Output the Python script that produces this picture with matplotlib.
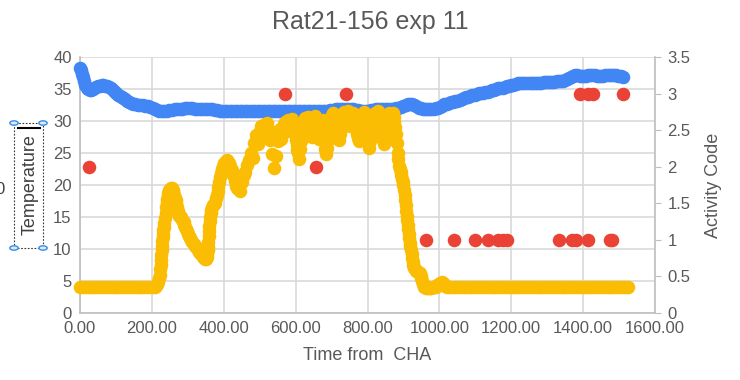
import numpy as np
import matplotlib
matplotlib.use("Agg")
import matplotlib.pyplot as plt
from matplotlib.patches import Rectangle, Circle
from matplotlib.lines import Line2D

plt.rcParams['font.family'] = ['Liberation Sans', 'DejaVu Sans']

title = "Rat21-156 exp 11"

# temperature (blue), left axis: (time, value)
bluePts = [
    (0, 38.3), (3, 38.0), (6, 37.4), (9, 36.8), (12, 36.2), (15, 35.6), (19, 35.2), (23, 35.0),
    (27, 34.9), (31, 34.9), (35, 35.0), (40, 35.1), (45, 35.3), (50, 35.4), (55, 35.5), (60, 35.6),
    (65, 35.6), (70, 35.5), (76, 35.4), (81, 35.3), (86, 35.2), (91, 34.9), (96, 34.6), (101, 34.3),
    (106, 34.1), (111, 33.9), (116, 33.8), (121, 33.6), (126, 33.5), (131, 33.2), (136, 33.0),
    (141, 32.8), (147, 32.7), (154, 32.6), (161, 32.5), (168, 32.5), (175, 32.5), (182, 32.4),
    (189, 32.4), (196, 32.2), (202, 32.0), (208, 31.8), (214, 31.7), (221, 31.6), (228, 31.6),
    (235, 31.6), (242, 31.6), (249, 31.7), (256, 31.7), (263, 31.8), (270, 31.8), (277, 31.9),
    (284, 31.9), (291, 32.0), (298, 32.0), (305, 32.0), (312, 32.0), (319, 31.9), (326, 31.9),
    (333, 31.9), (340, 31.9), (347, 31.8), (354, 31.8), (361, 31.8), (368, 31.8), (375, 31.7),
    (382, 31.7), (389, 31.6), (396, 31.6), (403, 31.6), (410, 31.6), (417, 31.6), (424, 31.6),
    (431, 31.5), (438, 31.5), (445, 31.6), (452, 31.6), (459, 31.5), (466, 31.5), (473, 31.5),
    (480, 31.5), (487, 31.6), (494, 31.6), (501, 31.6), (508, 31.6), (515, 31.5), (522, 31.5),
    (529, 31.5), (536, 31.5), (543, 31.6), (550, 31.6), (557, 31.6), (564, 31.6), (571, 31.5),
    (578, 31.5), (585, 31.6), (592, 31.6), (599, 31.5), (606, 31.5), (613, 31.6), (620, 31.6),
    (627, 31.5), (634, 31.5), (641, 31.6), (648, 31.6), (655, 31.5), (662, 31.5), (669, 31.5),
    (676, 31.5), (683, 31.6), (690, 31.6), (697, 31.7), (704, 31.7), (711, 31.8), (718, 31.8),
    (725, 31.9), (732, 31.9), (739, 31.8), (746, 31.8), (753, 31.8), (760, 31.8), (767, 31.7),
    (774, 31.7), (781, 31.6), (788, 31.6), (795, 31.6), (802, 31.6), (809, 31.7), (816, 31.7),
    (823, 31.8), (830, 31.8), (837, 31.8), (844, 31.8), (851, 31.8), (858, 31.8), (865, 31.9),
    (872, 31.9), (879, 32.0), (886, 32.1), (893, 32.2), (900, 32.3), (906, 32.5), (912, 32.6),
    (918, 32.7), (924, 32.7), (930, 32.5), (936, 32.3), (942, 32.1), (948, 32.0), (954, 31.9),
    (960, 31.9), (966, 31.8), (972, 31.8), (978, 31.9), (984, 31.9), (990, 32.0), (996, 32.1),
    (1002, 32.2), (1008, 32.4), (1014, 32.6), (1020, 32.7), (1026, 32.8), (1032, 32.9),
    (1038, 33.0), (1044, 33.1), (1050, 33.2), (1056, 33.3), (1062, 33.5), (1068, 33.6),
    (1074, 33.7), (1080, 33.8), (1086, 33.9), (1092, 34.0), (1098, 34.1), (1104, 34.2),
    (1110, 34.3), (1116, 34.4), (1122, 34.4), (1128, 34.5), (1134, 34.6), (1140, 34.7),
    (1146, 34.8), (1152, 34.9), (1158, 35.0), (1164, 35.1), (1170, 35.1), (1176, 35.2),
    (1182, 35.3), (1188, 35.4), (1194, 35.5), (1200, 35.6), (1206, 35.7), (1212, 35.8),
    (1218, 35.9), (1224, 35.9), (1230, 35.9), (1236, 35.9), (1242, 36.0), (1248, 36.0),
    (1254, 36.0), (1260, 36.0), (1266, 35.9), (1272, 35.9), (1278, 36.0), (1284, 36.0),
    (1290, 36.1), (1296, 36.1), (1302, 36.1), (1308, 36.1), (1314, 36.1), (1320, 36.1),
    (1326, 36.2), (1332, 36.2), (1338, 36.3), (1344, 36.3), (1350, 36.4), (1356, 36.5),
    (1362, 36.7), (1367, 36.9), (1372, 37.1), (1378, 37.2), (1384, 37.2), (1390, 37.1),
    (1396, 37.1), (1402, 37.1), (1408, 37.1), (1414, 37.2), (1420, 37.2), (1426, 37.2),
    (1432, 37.2), (1438, 37.1), (1444, 37.1), (1450, 37.1), (1456, 37.1), (1462, 37.2),
    (1468, 37.2), (1474, 37.2), (1480, 37.2), (1486, 37.2), (1492, 37.2), (1498, 37.1),
    (1504, 37.0), (1510, 36.9),
]

# second series (yellow), left axis: (time, value)
yellowPts = [
    (0, 4.0), (8, 4.0), (16, 4.0), (24, 4.0), (32, 4.0), (40, 4.0), (48, 4.0), (56, 4.0),
    (64, 4.0), (72, 4.0), (80, 4.0), (88, 4.0), (96, 4.0), (104, 4.0), (112, 4.0), (120, 4.0),
    (128, 4.0), (136, 4.0), (144, 4.0), (152, 4.0), (160, 4.0), (168, 4.0), (176, 4.0),
    (184, 4.0), (192, 4.0), (200, 4.0), (208, 4.0),
    (212, 4.2), (215, 4.5), (218, 4.9), (220, 5.4), (222, 6.0), (223, 6.8), (224, 7.5),
    (225, 8.3), (226, 9.1), (227, 9.8), (228, 10.5), (229, 11.2), (230, 11.8), (231, 12.3),
    (232, 12.9), (233, 13.4), (235, 14.1), (236, 14.8), (238, 15.7), (239, 16.6), (241, 17.3),
    (242, 17.8), (244, 18.3), (246, 18.8), (248, 19.2), (250, 19.4), (253, 19.5), (255, 19.5),
    (258, 19.2), (260, 19.0), (262, 18.5), (264, 18.0), (266, 17.6), (268, 17.2), (270, 16.6),
    (272, 16.0), (274, 15.6), (276, 15.2), (279, 15.1), (282, 15.0), (285, 14.6), (288, 14.2),
    (290, 13.8), (293, 13.4), (296, 13.1), (298, 12.8), (301, 12.4), (304, 12.0), (307, 11.7),
    (310, 11.4), (313, 11.1), (316, 10.8), (319, 10.5), (322, 10.3), (325, 10.1), (328, 9.9),
    (331, 9.6), (334, 9.4), (337, 9.2), (340, 9.0), (343, 8.8), (346, 8.6), (349, 8.5),
    (351, 8.4), (353, 8.8), (354, 9.2), (355, 9.8), (356, 10.3), (357, 11.1), (358, 12.0),
    (359, 12.8), (360, 13.6), (361, 14.3), (362, 15.0), (364, 15.6), (365, 16.1), (368, 16.5),
    (370, 16.8), (373, 17.0), (376, 17.2), (379, 17.9), (381, 18.5), (383, 19.1), (384, 19.7),
    (387, 20.5), (390, 21.3), (393, 21.9), (396, 22.5), (399, 23.0), (402, 23.4), (406, 23.7),
    (410, 23.9), (414, 23.5), (418, 23.0), (422, 22.3), (426, 21.5), (430, 20.6), (434, 19.8),
    (437, 19.5), (440, 19.4), (445, 19.0), (450, 20.5), (455, 21.6), (460, 22.0), (465, 23.2),
    (470, 23.9), (475, 25.0), (480, 24.2), (485, 26.5), (490, 27.8), (495, 26.4), (500, 28.5),
    (505, 29.2), (510, 28.0), (515, 29.5), (520, 29.7), (525, 28.6), (530, 27.0), (535, 24.8),
    (540, 22.6), (545, 24.5), (550, 26.8), (555, 28.5), (560, 27.2), (565, 29.0), (570, 29.8),
    (575, 28.4), (580, 30.2), (585, 29.0), (590, 30.3), (595, 28.2), (600, 27.0), (605, 25.5),
    (610, 24.0), (615, 26.8), (620, 28.8), (625, 30.5), (630, 29.2), (635, 30.6), (640, 28.5),
    (645, 27.5), (650, 29.5), (655, 30.8), (660, 28.8), (665, 27.2), (670, 29.6), (675, 30.2),
    (680, 26.8), (685, 24.8), (690, 27.0), (695, 29.5), (700, 30.8), (705, 31.2), (710, 29.5),
    (715, 28.2), (720, 27.0), (725, 28.8), (730, 30.6), (735, 31.4), (740, 30.2), (745, 31.5),
    (750, 29.2), (755, 30.8), (760, 31.3), (765, 29.8), (770, 28.0), (775, 26.8), (780, 28.6),
    (785, 30.6), (790, 31.4), (795, 30.0), (800, 27.5), (805, 25.8), (810, 27.8), (815, 30.2),
    (820, 31.3), (825, 30.4), (830, 31.5), (835, 29.6), (840, 27.6), (845, 26.4), (850, 28.5),
    (855, 30.6), (860, 31.2), (865, 30.0), (870, 31.3), (875, 29.8), (880, 28.0),
    (552.5, 27.8), (557.5, 28.8), (562.5, 28.4), (567.5, 29.5), (572.5, 29.2), (577.5, 29.6),
    (582.5, 29.8), (587.5, 30.0), (592.5, 29.4), (597.5, 28.0), (602.5, 26.2), (607.5, 25.0),
    (612.5, 25.6), (617.5, 27.8), (622.5, 29.6), (627.5, 30.0), (632.5, 30.0), (637.5, 29.8),
    (642.5, 28.0), (647.5, 28.6), (652.5, 30.2), (657.5, 29.8), (662.5, 28.0), (667.5, 28.4),
    (672.5, 30.0), (677.5, 28.6), (682.5, 25.6), (687.5, 25.8), (692.5, 28.4), (697.5, 30.2),
    (702.5, 31.0), (707.5, 30.4), (712.5, 28.8), (717.5, 27.6), (722.5, 27.9), (727.5, 29.8),
    (732.5, 31.0), (737.5, 30.8), (742.5, 30.9), (747.5, 30.4), (752.5, 30.0), (757.5, 31.0),
    (762.5, 30.6), (767.5, 28.9), (772.5, 27.4), (777.5, 27.6), (782.5, 29.6), (787.5, 31.0),
    (792.5, 30.7), (797.5, 28.8), (802.5, 26.6), (807.5, 26.8), (812.5, 29.0), (817.5, 30.8),
    (822.5, 30.9), (827.5, 31.0), (832.5, 30.6), (837.5, 28.6), (842.5, 27.0), (847.5, 27.4),
    (852.5, 29.6), (857.5, 30.9), (862.5, 30.6), (867.5, 30.7), (872.5, 30.6), (877.5, 29.0),
    (882, 26.5), (884, 25.0), (886, 24.0), (888, 23.0), (890, 22.5), (892, 22.0), (894, 21.5),
    (896, 21.0), (898, 20.5), (900, 20.0), (901.5, 19.2), (903, 18.5), (904.5, 17.6), (906, 16.8),
    (907.5, 16.0), (909, 15.2), (910.5, 14.5), (912, 13.8), (913.5, 13.1), (915, 12.4),
    (916.5, 11.7), (918, 11.0), (919.5, 10.4), (921, 9.8), (922.5, 9.2), (924, 8.6),
    (925.5, 8.0), (927, 7.5), (929, 7.1), (931, 6.8), (934, 6.6), (938, 6.5), (941, 6.4),
    (945, 6.2), (948, 5.8), (950, 5.4), (952, 5.0), (954, 4.6), (956, 4.3), (958, 4.0),
    (962, 3.9), (966, 3.9), (970, 3.9), (974, 3.9), (978, 3.9), (982, 4.0), (986, 4.0),
    (990, 4.1), (994, 4.3), (998, 4.5), (1002, 4.7), (1006, 4.9), (1009, 4.7), (1012, 4.5),
    (1016, 4.2), (1020, 4.1), (1028, 4.0), (1036, 4.0), (1044, 4.0), (1052, 4.0), (1060, 4.0),
    (1068, 4.0), (1076, 4.0), (1084, 4.0), (1092, 4.0), (1100, 4.0), (1108, 4.0), (1116, 4.0),
    (1124, 4.0), (1132, 4.0), (1140, 4.0), (1148, 4.0), (1156, 4.0), (1164, 4.0), (1172, 4.0),
    (1180, 4.0), (1188, 4.0), (1196, 4.0), (1204, 4.0), (1212, 4.0), (1220, 4.0), (1228, 4.0),
    (1236, 4.0), (1244, 4.0), (1252, 4.0), (1260, 4.0), (1268, 4.0), (1276, 4.0), (1284, 4.0),
    (1292, 4.0), (1300, 4.0), (1308, 4.0), (1316, 4.0), (1324, 4.0), (1332, 4.0), (1340, 4.0),
    (1348, 4.0), (1356, 4.0), (1364, 4.0), (1372, 4.0), (1380, 4.0), (1388, 4.0), (1396, 4.0),
    (1404, 4.0), (1412, 4.0), (1420, 4.0), (1428, 4.0), (1436, 4.0), (1444, 4.0), (1452, 4.0),
    (1460, 4.0), (1468, 4.0), (1476, 4.0), (1484, 4.0), (1492, 4.0), (1500, 4.0), (1508, 4.0),
    (1516, 4.0), (1524, 4.0),
]

# activity code (red), right axis
redTime = [25, 571, 658, 739, 964, 1040, 1100, 1134, 1162, 1176, 1187, 1332, 1368, 1379,
           1391, 1413, 1413, 1427, 1474, 1480, 1510]
redCode = [2, 3, 2, 3, 1, 1, 1, 1, 1, 1, 1, 1, 1, 1, 3, 1, 3, 3, 1, 1, 3]

xTicks = [0, 200, 400, 600, 800, 1000, 1200, 1400, 1600]
xTickLabels = ["0.00", "200.00", "400.00", "600.00", "800.00", "1000.00", "1200.00",
               "1400.00", "1600.00"]
leftTicks = [0, 5, 10, 15, 20, 25, 30, 35, 40]
rightTicks = [0, 0.5, 1, 1.5, 2, 2.5, 3, 3.5]
rightTickLabels = ["0", "0.5", "1", "1.5", "2", "2.5", "3", "3.5"]

blueTime, blueTemp = zip(*bluePts)
yellowTime, yellowVal = zip(*yellowPts)

W, H = 740, 380
f = plt.figure(figsize=(7.4, 3.8), dpi=100)
ax = f.add_axes([80 / W, 67 / H, 575 / W, 256 / H])
ax2 = ax.twinx()

tickCol = "#595959"
gridCol = "#d9d9d9"
msize = 95

ax.scatter(blueTime, blueTemp, s=msize, color="#4285f4", linewidths=0, zorder=3, clip_on=False)
ax.scatter(yellowTime, yellowVal, s=msize, color="#fbbc04", linewidths=0, zorder=4, clip_on=False)
ax2.scatter(redTime, redCode, s=msize, color="#ea4335", linewidths=0, zorder=5, clip_on=False)

ax.set_xlim(0, 1600)
ax.set_ylim(0, 40)
ax2.set_ylim(0, 3.5)
ax.set_xticks(xTicks, xTickLabels)
ax.set_yticks(leftTicks)
ax2.set_yticks(rightTicks, rightTickLabels)
ax.grid(True, color=gridCol, linewidth=1.2)
ax.set_axisbelow(True)

for a in (ax, ax2):
    for s in a.spines.values():
        s.set_visible(False)
ax.spines["left"].set_visible(True)
ax.spines["bottom"].set_visible(True)
ax2.spines["right"].set_visible(True)
for sp in (ax.spines["left"], ax.spines["bottom"], ax2.spines["right"]):
    sp.set_color("#bfbfbf")
    sp.set_linewidth(1.2)

ax.tick_params(axis="both", length=0, labelsize=12, labelcolor=tickCol, pad=6)
ax2.tick_params(axis="y", length=4, color="#bfbfbf", labelsize=12, labelcolor=tickCol, pad=5)

ax.set_xlabel("Time from  CHA", fontsize=13, color=tickCol, labelpad=8)
ax2.set_ylabel("Activity Code", fontsize=13, color=tickCol, labelpad=10)
f.text(0.5, 1 - 22 / H, title, ha="center", va="center", fontsize=18, color="#595959")

# selected y-axis title box on the left
f.text(30 / W, 1 - 185 / H, "Temperature", rotation=90, ha="center", va="center",
       fontsize=13, color="#404040")
f.add_artist(Rectangle((14 / W, 1 - 248 / H), 29 / W, 125 / H, transform=f.transFigure,
                       fill=False, edgecolor="#333333", linestyle=(0, (1.5, 1.5)), linewidth=0.8))
f.add_artist(Line2D([18 / W, 40 / W], [1 - 128 / H, 1 - 128 / H], transform=f.transFigure,
                    color="black", linewidth=1.5))
for cx, cy in [(14, 123), (43, 123), (14, 248), (43, 248)]:
    f.add_artist(Circle((cx / W, 1 - cy / H), 4.2 / W, transform=f.transFigure,
                        facecolor="#dce9f8", edgecolor="#3c8ee6", linewidth=1.0))
f.text(-5 / W, 1 - 190 / H, "0", ha="left", va="center", fontsize=12, color="#404040")

plt.savefig("out.png", dpi=100)
